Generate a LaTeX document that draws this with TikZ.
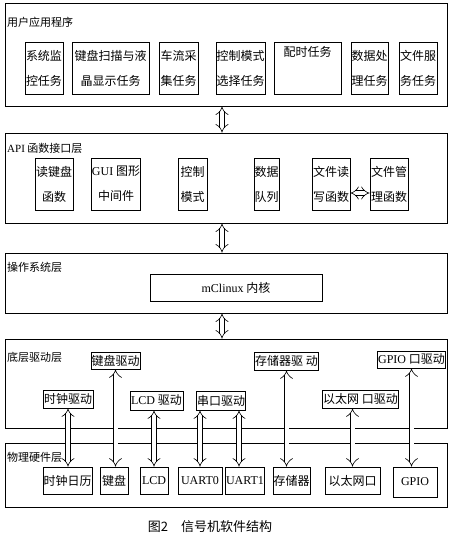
\documentclass[tikz,border=0pt]{standalone}
\usepackage{fontspec}
\setmainfont{Noto Sans CJK SC}
\newfontfamily\latin{Liberation Serif}
\usetikzlibrary{arrows.meta}

\begin{document}
\begin{tikzpicture}[x=1pt, y=-1pt,
  layer/.style={draw, line width=0.9pt, inner sep=0pt},
  ltitle/.style={anchor=west, inner sep=0pt, font=\fontsize{11}{12}\selectfont},
  box/.style={draw, line width=0.7pt, align=center, inner xsep=0.5pt, inner ysep=0pt,
    font=\fontsize{12}{25}\selectfont},
  dblarrow/.style={double, double distance=4pt, line width=0.6pt, {Implies}-{Implies}}]

  \useasboundingbox (0,0) rectangle (449,536);

  % User application layer
  \node[layer, minimum width=442pt, minimum height=103pt] (app) at (226,54.5) {};
  \node[ltitle] (appT) at (7,22) {用户应用程序};
  \node[box, minimum width=38pt, minimum height=52pt] (sysmon) at (44,68)
    {系统监\\控任务};
  \node[box, minimum width=77pt, minimum height=52pt] (kbscan) at (110.5,68)
    {键盘扫描与液\\晶显示任务};
  \node[box, minimum width=39pt, minimum height=52pt] (traffic) at (178.5,68)
    {车流采\\集任务};
  \node[box, minimum width=49pt, minimum height=52pt] (ctrlsel) at (240.5,68)
    {控制模式\\选择任务};
  \node[box, minimum width=67pt, minimum height=52pt] (timing) at (307.5,68)
    {配时任务\\\strut};
  \node[box, minimum width=37pt, minimum height=52pt] (dataproc) at (369.5,68)
    {数据处\\理任务};
  \node[box, minimum width=38pt, minimum height=52pt] (filesrv) at (418,68)
    {文件服\\务任务};

  % API layer
  \node[layer, minimum width=442pt, minimum height=90pt] (api) at (226,178) {};
  \node[ltitle] (apiT) at (7,148) {{\latin API} 函数接口层};
  \node[box, minimum width=38pt, minimum height=52pt] (rdkb) at (54,184)
    {读键盘\\函数};
  \node[box, minimum width=48pt, minimum height=52pt] (gui) at (116,184)
    {{\latin GUI} 图形\\中间件};
  \node[box, minimum width=29pt, minimum height=52pt] (ctrl) at (192.5,184)
    {控制\\模式};
  \node[box, minimum width=24pt, minimum height=52pt] (queue) at (266.5,184)
    {数据\\队列};
  \node[box, minimum width=38pt, minimum height=52pt] (fread) at (331,184)
    {文件读\\写函数};
  \node[box, minimum width=38pt, minimum height=52pt] (fmgr) at (389,184)
    {文件管\\理函数};
  \draw[dblarrow] ([yshift=-9pt]fread.east) -- ([yshift=-9pt]fmgr.west);

  % OS layer
  \node[layer, minimum width=442pt, minimum height=60pt] (os) at (226,283) {};
  \node[ltitle] (osT) at (7,267) {操作系统层};
  \node[box, minimum width=172pt, minimum height=27pt] (kernel) at (236,287.5)
    {{\latin mClinux} 内核};

  % Driver layer
  \node[layer, minimum width=442pt, minimum height=89pt] (drv) at (226,383.5) {};
  \node[ltitle] (drvT) at (7,357) {底层驱动层};
  \node[box, minimum width=47pt, minimum height=17pt] (kbdrv) at (115.5,360.5)
    {键盘驱动};
  \node[box, minimum width=57pt, minimum height=18pt] (memdrv) at (286.5,361)
    {存储器驱 动};
  \node[box, minimum width=63pt, minimum height=17pt] (gpiodrv) at (411.5,359.5)
    {{\latin GPIO} 口驱动};
  \node[box, minimum width=50pt, minimum height=18pt] (clkdrv) at (68,399)
    {时钟驱动};
  \node[box, minimum width=53pt, minimum height=19pt] (lcddrv) at (156.5,400.5)
    {{\latin LCD} 驱动};
  \node[box, minimum width=48pt, minimum height=19pt] (serdrv) at (221,400.5)
    {串口驱动};
  \node[box, minimum width=75pt, minimum height=18pt] (ethdrv) at (360.5,399)
    {以太网 口驱动};

  % Hardware layer
  \node[layer, minimum width=442pt, minimum height=64pt] (hw) at (226,475) {};
  \node[ltitle] (hwT) at (7,457) {物理硬件层};
  \node[box, minimum width=49pt, minimum height=27pt] (clk) at (67.5,480.5)
    {时钟日历};
  \node[box, minimum width=28pt, minimum height=27pt] (kb) at (114,480.5)
    {键盘};
  \node[box, minimum width=28pt, minimum height=27pt] (lcd) at (154,480.5)
    {\latin LCD};
  \node[box, minimum width=44pt, minimum height=27pt] (uart0) at (200,480.5)
    {\latin UART0};
  \node[box, minimum width=36pt, minimum height=27pt] (uart1) at (245,480.5)
    {\latin UART1};
  \node[box, minimum width=34pt, minimum height=27pt] (mem) at (291.5,480.5)
    {存储器};
  \node[box, minimum width=55pt, minimum height=27pt] (eth) at (352.5,480.5)
    {以太网口};
  \node[box, minimum width=44pt, minimum height=30pt] (gpio) at (415,482)
    {\latin GPIO};

  % Arrows between layers
  \draw[dblarrow] ([xshift=-4pt]app.south) -- ([xshift=-4pt]api.north);
  \draw[dblarrow] ([xshift=-4pt]api.south) -- ([xshift=-4pt]os.north);
  \draw[dblarrow] ([xshift=-4pt]os.south) -- ([xshift=-4pt]drv.north);

  % Drivers to hardware
  \draw[dblarrow] (clkdrv.south) -- (clkdrv.south |- clk.north);
  \draw[dblarrow] (kbdrv.south) -- (kbdrv.south |- kb.north);
  \draw[dblarrow] (lcddrv.south -| lcd.north) -- (lcd.north);
  \draw[dblarrow] (serdrv.south -| uart0.north) -- (uart0.north);
  \draw[dblarrow] ([xshift=-6pt]serdrv.south -| uart1.north) -- ([xshift=-6pt]uart1.north);
  \draw[dblarrow] (memdrv.south) -- (memdrv.south |- mem.north);
  \draw[dblarrow] (ethdrv.south -| eth.north) -- (eth.north);
  \draw[dblarrow] (gpiodrv.south) -- (gpiodrv.south |- gpio.north);

  % Caption
  \node[font=\fontsize{13}{15}\selectfont] (cap) at (210,527) {图2\quad 信号机软件结构};

\end{tikzpicture}
\end{document}
